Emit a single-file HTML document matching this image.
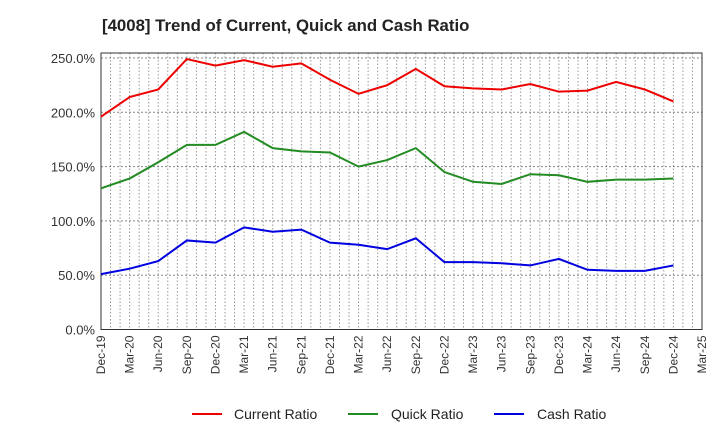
<!DOCTYPE html>
<html><head><meta charset="utf-8"><style>
body{margin:0;background:#fff;font-family:"Liberation Sans",sans-serif;}
svg text{font-family:"Liberation Sans",sans-serif;}
</style></head><body>
<svg id="chart" width="720" height="440" xmlns="http://www.w3.org/2000/svg">
<text x="102" y="31" font-size="16.8" font-weight="bold" fill="#222">[4008]  Trend of Current, Quick and Cash Ratio</text>
<g id="grid"></g><g id="axes"></g><g id="series"></g>
<g>
<line x1="192" y1="414" x2="222" y2="414" stroke="#e00" stroke-width="2"/><text x="234" y="419" font-size="14" fill="#222">Current Ratio</text>
<line x1="348" y1="414" x2="378" y2="414" stroke="#228b22" stroke-width="2"/><text x="391" y="419" font-size="14" fill="#222">Quick Ratio</text>
<line x1="494" y1="414" x2="524" y2="414" stroke="#0000e0" stroke-width="2"/><text x="537" y="419" font-size="14" fill="#222">Cash Ratio</text>
</g>
</svg>
<script>
const xLabels=["Dec-19","Mar-20","Jun-20","Sep-20","Dec-20","Mar-21","Jun-21","Sep-21","Dec-21","Mar-22","Jun-22","Sep-22","Dec-22","Mar-23","Jun-23","Sep-23","Dec-23","Mar-24","Jun-24","Sep-24","Dec-24","Mar-25"];
const yTicks=[0,50,100,150,200,250];
const currentRatio=[196,214,221,249,243,248,242,245,230,217,225,240,224,222,221,226,219,220,228,221,210];
const quickRatio=[130,139,154,170,170,182,167,164,163,150,156,167,145,136,134,143,142,136,138,138,139];
const cashRatio=[51,56,63,82,80,94,90,92,80,78,74,84,62,62,61,59,65,55,54,54,59];
const NS="http://www.w3.org/2000/svg";
const L=101,R=702,T=53,B=329.5;
const step=(R-L)/(xLabels.length-1);
const X=i=>L+i*step;
const Y=v=>B-v*(B-58)/250;
function mk(tag,attrs,parent){const e=document.createElementNS(NS,tag);for(const k in attrs)e.setAttribute(k,attrs[k]);parent.appendChild(e);return e;}
const grid=document.getElementById('grid'),axes=document.getElementById('axes'),series=document.getElementById('series');
for(let m=0;m<=(xLabels.length-1)*3;m++){const x=L+m*step/3;
const g=mk('line',{x1:x,x2:x,y1:T,y2:B,stroke:'#999','stroke-dasharray':'1.5,2','stroke-width':1},grid);

}
yTicks.forEach(v=>{const y=Y(v);
const g=mk('line',{x1:L,x2:R,y1:y,y2:y,stroke:'#888','stroke-dasharray':'2,2','stroke-width':1},grid);


const t=mk('text',{x:L-6,y:y+5,'font-size':13,'text-anchor':'end',fill:'#333'},axes);t.textContent=v.toFixed(1)+'%';

});
const fr=mk('rect',{x:L,y:T,width:R-L,height:B-T,fill:'none',stroke:'#333','stroke-width':1},axes);


xLabels.forEach((s,i)=>{const x=X(i);
const t=mk('text',{x:x+4,y:B+6,'font-size':12,'text-anchor':'end',fill:'#333',transform:`rotate(-90 ${x+4} ${B+6})`},axes);t.textContent=s;

});
[[currentRatio,'#e00','current-ratio-line'],[quickRatio,'#228b22','quick-ratio-line'],[cashRatio,'#0000e0','cash-ratio-line']].forEach(([d,c,n])=>{
const p=mk('polyline',{points:d.map((v,i)=>X(i)+','+Y(v)).join(' '),fill:'none',stroke:c,'stroke-width':2},series);

});
</script>
</body></html>
